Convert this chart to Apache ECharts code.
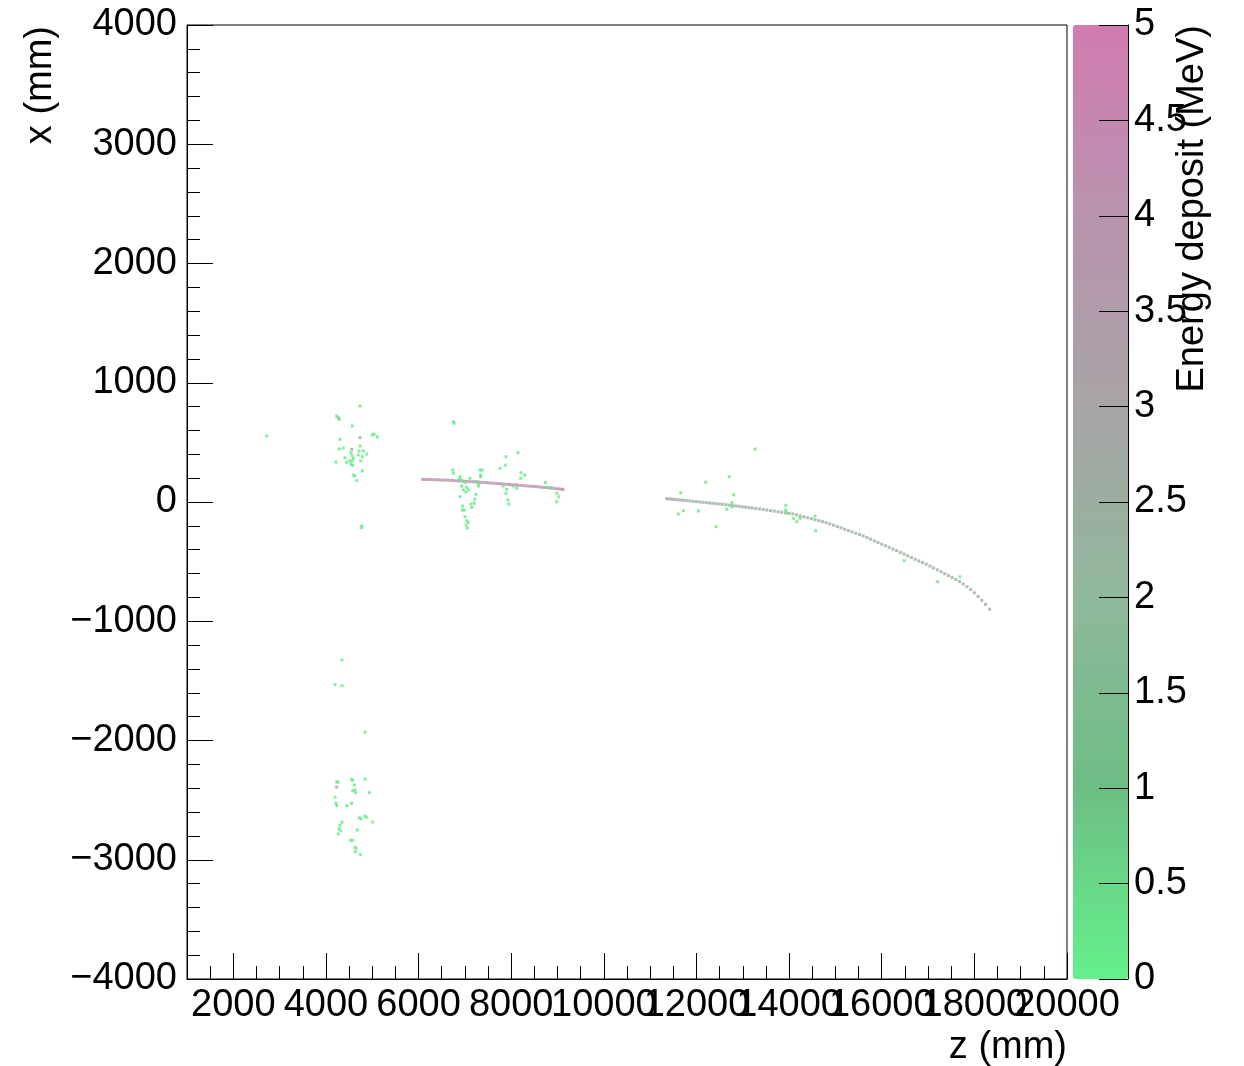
<!DOCTYPE html>
<html>
<head>
<meta charset="utf-8">
<script src="https://cdn.jsdelivr.net/npm/echarts@6/dist/echarts.min.js"></script>
<style>html,body{margin:0;padding:0;background:#fff}#main{width:1244px;height:1066px}</style>
</head>
<body>
<div id="main"></div>
<script>
// tick labels
var zTicks = [2000, 4000, 6000, 8000, 10000, 12000, 14000, 16000, 18000, 20000];
var ePalette = ["#64f08c", "#6dbe84", "#8fb89b", "#a8a4a6", "#b893ae", "#d27bb0"];

// straight track, z / x (mm) / energy (MeV)
var track1Z = [6090,6150,6210,6270,6330,6390,6450,6510,6570,6630,6690,6750,6810,6870,6930,6990,7050,7110,7170,7230,
  7290,7350,7410,7470,7530,7590,7650,7710,7770,7830,7890,7950,8010,8070,8120,8180,8240,8300,8360,8420,
  8480,8540,8600,8660,8720,8780,8840,8900,8960,9020,9080,9120];
var track1X = [190,189,188,188,187,186,185,184,184,183,182,180,179,177,176,174,173,171,170,168,
  167,165,164,162,160,158,157,155,153,151,149,147,145,143,142,140,138,136,134,132,
  130,129,127,124,122,120,117,115,112,110,108,106];
var track1E = [4.6,3.4,4.9,3.8,4.2,3.1,4.7,4.0,3.5,4.8,3.9,4.4,3.2,4.6,3.7,4.9,4.1,3.3,4.5,3.8,
  4.7,3.6,4.2,4.9,3.4,4.0,4.6,3.9,4.8,3.5,4.3,4.7,3.8,4.1,4.9,3.6,4.4,3.3,4.8,4.0,
  3.7,4.6,4.2,3.5,4.9,3.9,4.5,3.4,4.7,4.1,3.8,4.6];

// curved track
var track2Z = [11360,11420,11480,11540,11600,11660,11720,11790,11860,11930,
  12000,12070,12140,12210,12280,12350,12420,12490,12560,12640,
  12710,12780,12850,12920,12990,13060,13130,13200,13280,13360,
  13440,13520,13600,13680,13760,13840,13920,14000,14080,
  14160,14240,14320,14400,14480,14560,14640,14720,14800,
  14880,14960,15040,15120,15200,15280,15360,15440,15520,15600,
  15680,15760,15840,15920,16000,16080,16160,16240,16320,
  16400,16480,16560,16640,16720,16800,16880,16960,17040,
  17120,17200,17280,17360,17440,17520,17600,
  17680,17760,17840,17920,18000,18080,18160,18240,18330];
var track2X = [28,26,23,21,19,16,14,12,9,6,
  3,0,-3,-5,-8,-11,-14,-17,-19,-23,
  -26,-29,-33,-36,-40,-43,-47,-50,-54,-58,
  -63,-67,-72,-77,-82,-86,-91,-96,-100,
  -108,-116,-124,-132,-140,-148,-157,-165,-173,
  -184,-195,-206,-217,-229,-240,-251,-262,-273,-285,
  -298,-312,-326,-340,-353,-367,-381,-395,-408,
  -423,-437,-451,-465,-480,-494,-508,-522,-537,
  -553,-569,-585,-601,-617,-634,-650,
  -668,-688,-710,-735,-762,-792,-824,-858,-899];
var track2E = [3.6,3.2,3.8,2.9,2.6,2.4,2.5,2.3,2.7,2.4,
  2.2,2.5,2.3,2.6,2.4,2.8,2.3,2.5,2.2,2.4,
  2.6,2.3,2.5,2.7,2.4,2.2,2.5,4.2,2.3,2.6,
  2.4,2.5,2.3,2.7,2.2,2.4,2.6,2.3,2.5,
  2.4,2.2,2.6,2.3,2.5,2.4,2.7,2.3,2.5,
  2.2,2.4,2.6,2.3,2.5,2.8,2.4,2.2,2.5,2.3,
  2.6,2.4,2.3,2.5,2.2,2.7,2.4,2.5,3.0,
  2.3,2.5,2.4,2.2,2.6,2.4,2.3,2.5,2.4,
  2.6,2.3,2.5,2.9,2.4,2.2,2.5,
  2.4,2.6,2.3,2.5,2.2,2.4,2.6,2.3,2.4];

// loose hits [z, x, E]
var hitsUp = [[2721,553,0.1],[4735,805,0.1],[4232,721,0.2],[4267,707,2.4],[4288,693,0.3],[4569,637,0.1],[4303,526,0.2],
  [4735,539,1.8],[5001,562,0.1],[5037,570,0.2],[5109,547,0.1],[4288,444,0.2],[4375,453,0.1],[4556,442,1.6],[4541,413,0.2],
  [4563,388,0.1],[4735,469,0.1],[4714,428,0.2],[4806,428,0.1],[4880,402,0.2],[4699,394,0.1],[4785,380,0.2],[4411,371,0.1],
  [4591,366,0.2],[4569,346,0.1],[4519,344,0.3],[4448,333,0.1],[4217,335,0.2],[4750,346,0.1],[4541,316,0.2],[4578,308,0.1],
  [4785,260,0.2],[4591,226,0.1],[4621,218,0.2],[4664,179,0.1],[4772,-201,0.2],[4772,-216,0.1]];
var hitsLow = [[4347,-1325,0.1],[4196,-1532,0.2],[4347,-1541,0.1],[4843,-1931,0.1],[4232,-2346,0.2],[4254,-2351,0.1],
  [4556,-2326,0.2],[4578,-2334,0.1],[4843,-2323,0.1],[4612,-2373,0.2],[4232,-2390,3.2],[4578,-2421,0.1],[4627,-2415,0.2],
  [4642,-2438,0.1],[4936,-2438,0.2],[4196,-2476,0.1],[4217,-2527,0.2],[4232,-2547,0.1],[4448,-2547,0.2],[4556,-2527,0.4],
  [4720,-2648,0.1],[4757,-2658,0.2],[4843,-2633,0.1],[4880,-2644,0.2],[5009,-2684,0.1],[4347,-2686,0.2],[4303,-2711,0.1],
  [4282,-2740,0.2],[4319,-2757,0.1],[4677,-2751,0.2],[4267,-2784,0.1],[4534,-2837,0.2],[4578,-2837,0.1],[4634,-2896,0.2],
  [4649,-2904,0.1],[4634,-2933,0.2],[4742,-2958,0.1]];
var hitsMid = [[6750,673,0.2],[6765,660,0.3],[7888,380,0.1],[8147,413,0.2],[7758,282,0.1],[7872,310,0.2],[6737,268,0.1],
  [6750,241,0.2],[6894,212,0.1],[6879,193,0.2],[7326,268,0.1],[7369,268,0.2],[7341,226,0.1],[7341,212,0.2],[8211,246,0.1],
  [8291,226,0.2],[8205,199,0.1],[6931,184,0.2],[7002,162,0.1],[6931,134,0.2],[7039,123,0.1],[6966,101,0.2],[7074,101,0.1],
  [7024,84,0.2],[7110,199,0.1],[7255,170,0.2],[7305,151,0.1],[7290,134,0.2],[6894,44,0.1],[7240,64,0.2],[7218,23,0.1],
  [7197,-11,0.2],[7125,-17,0.1],[7147,-45,0.2],[6953,-34,0.1],[6987,-67,0.2],[6944,-67,0.1],[7002,-123,0.2],[7039,-157,0.1],
  [7074,-170,0.2],[7024,-193,0.1],[7052,-218,0.2],[7829,134,0.1],[7903,106,0.2],[7888,73,0.1],[7931,17,0.2],[7946,-17,0.1],
  [8045,134,0.2],[8119,115,0.1],[8736,162,0.2],[8751,123,0.1],[8874,123,0.2],[8982,73,0.1],[9025,44,0.2],[8982,2,0.1]];
var hitsDown = [[13264,444,0.3],[12709,212,0.1],[12199,165,0.2],[11659,78,0.1],[12804,59,0.2],[12767,-6,0.1],[12767,-40,0.2],
  [11608,-101,0.1],[11716,-73,0.2],[12040,-76,0.4],[12422,-207,0.1],[12653,-61,0.2],[13927,-28,0.1],[13927,-67,0.2],
  [13948,-90,0.1],[14091,-137,0.2],[14164,-165,0.1],[14235,-137,0.2],[14559,-118,0.1],[14574,-241,0.2],[16487,-492,0.1],
  [17208,-668,0.2],[17690,-626,0.1]];

var font = "'Liberation Sans', Arial, Helvetica, sans-serif";
var black = {color: "#000", width: 1};
var plain = function(v) {return String(v)};
var zip = function(zs, xs, es) {return zs.map(function(z, i) {return [z, xs[i], es[i]]})};
var hits = function(name, data) {
  return {name: name, type: "scatter", xAxisIndex: 0, yAxisIndex: 0, data: data,
    symbol: "rect", symbolSize: 3, silent: true};
};
// labels overlap like ROOT draws them, so every other one goes on the overlay axis
var zLabel = function(odd) {
  return {customValues: zTicks.filter(function(v, i) {return i % 2 == odd}), margin: 8, fontSize: 38, color: "#000",
    fontFamily: font, formatter: plain, showMinLabel: true, showMaxLabel: true, hideOverlap: false};
};

var chart = echarts.init(document.getElementById("main"), null, {renderer: "canvas"});
chart.setOption({
  animation: false,
  backgroundColor: "#fff",
  textStyle: {fontFamily: font},
  grid: [
    {left: 187, top: 25, width: 880, height: 954, show: true, borderColor: "#000", borderWidth: 1, backgroundColor: "transparent"},
    {left: 187, top: 25, width: 880, height: 954, show: false},
    {left: 1073, top: 25, width: 55, height: 954, show: false},
  ],
  xAxis: [
    {gridIndex: 0, type: "value", min: 1000, max: 20000, interval: 500,
      axisLine: {show: true, onZero: false, lineStyle: black},
      axisTick: {show: true, inside: true, length: 13, lineStyle: black},
      axisLabel: zLabel(0),
      splitLine: {show: false}},
    {gridIndex: 1, type: "value", min: 1000, max: 20000, position: "bottom",
      axisLine: {show: false, onZero: false}, splitLine: {show: false},
      axisLabel: zLabel(1),
      axisTick: {show: true, inside: true, length: 26, customValues: zTicks, lineStyle: black}},
    {gridIndex: 2, type: "value", min: 0, max: 1, show: false},
  ],
  yAxis: [
    {gridIndex: 0, type: "value", min: -4000, max: 4000, interval: 1000,
      axisLine: {show: true, onZero: false, lineStyle: black},
      axisTick: {show: true, inside: true, length: 26, lineStyle: black},
      minorTick: {show: true, splitNumber: 5, length: 13, lineStyle: black},
      axisLabel: {margin: 10, fontSize: 38, color: "#000", fontFamily: font,
        formatter: function(v) {return v < 0 ? "\u2212" + (-v) : String(v)}},
      splitLine: {show: false}},
    {gridIndex: 1, type: "value", min: -4000, max: 4000, show: false},
    {gridIndex: 2, type: "value", min: 0, max: 5, interval: 0.5, position: "right", z: 10,
      axisLine: {show: true, onZero: false, lineStyle: black},
      axisTick: {show: true, inside: true, length: 29, lineStyle: black},
      axisLabel: {margin: 6, fontSize: 38, color: "#000", fontFamily: font, formatter: plain},
      splitLine: {show: false}},
  ],
  visualMap: {type: "continuous", min: 0, max: 5, dimension: 2, seriesIndex: [0, 1, 2, 3, 4, 5],
    inRange: {color: ePalette}, left: 1073, top: 25, itemWidth: 55, itemHeight: 954, z: 2,
    calculable: false, text: null, padding: 0, orient: "vertical", hoverLink: false},
  graphic: [
    {type: "text", x: 1067, y: 1048, style: {text: "z (mm)", font: "38px " + font, fill: "#000", align: "right", verticalAlign: "middle"}},
    {type: "text", x: 41, y: 26, rotation: Math.PI / 2, style: {text: "x (mm)", font: "38px " + font, fill: "#000", align: "right", verticalAlign: "middle"}},
    {type: "text", x: 1193, y: 25, rotation: Math.PI / 2, style: {text: "Energy deposit (MeV)", font: "38px " + font, fill: "#000", align: "right", verticalAlign: "middle"}},
  ],
  series: [
    hits("track1", zip(track1Z, track1X, track1E)),
    hits("track2", zip(track2Z, track2X, track2E)),
    hits("up", hitsUp),
    hits("low", hitsLow),
    hits("mid", hitsMid),
    hits("down", hitsDown),
  ],
});
</script>
</body>
</html>
